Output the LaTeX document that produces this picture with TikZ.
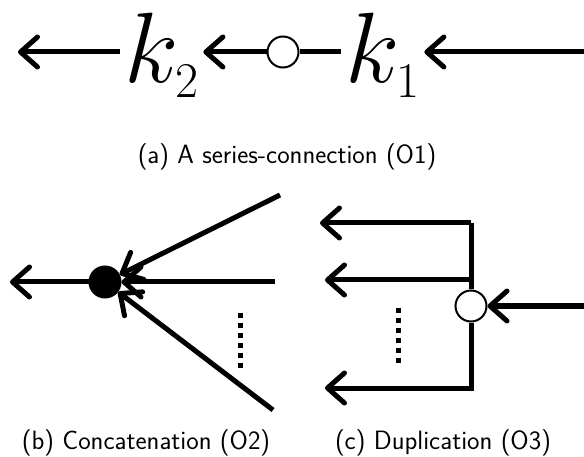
\RequirePackage{fix-cm}
\documentclass[tikz,border=0pt]{standalone}
\usepackage{amsmath}
\usepackage{tikz}
\usetikzlibrary{calc,positioning,arrows.meta}
\begin{document}
\begin{tikzpicture}[x=1pt,y=-1pt, line width=5pt,
  ar/.style={-{Straight Barb[length=17pt,width=30pt,round]}, line width=5pt},
  kay/.style={inner sep=2pt, font=\fontsize{100}{100}\selectfont},
  hub/.style={circle, draw, line width=2pt, fill=white, minimum size=31pt, inner sep=0pt},
  dots/.style={line width=5pt, dash pattern=on 5pt off 5pt},
  legenda/.style={font=\fontsize{26.5}{26.5}\selectfont\sffamily}]
  \useasboundingbox (0,0) rectangle (584,457);
  % (a) series
  \node[hub] (c0) at (283,52) {};
  \node[kay, anchor=base west] (k2) at (120,83) {$k_{\scriptscriptstyle 2}$};
  \node[kay, anchor=base west] (k1) at (341,83) {$k_{\scriptscriptstyle 1}$};
  \coordinate (a0) at (18,52); \coordinate (a1) at (584,52);
  \draw[ar] (k2.west |- c0) -- (a0);
  \draw[ar] (c0.west) -- (k2.east |- c0);
  \draw (k1.west |- c0) -- (c0.east);
  \draw[ar] (a1) -- (k1.east |- c0);
  \node[legenda] (capa) at (287,157) {(a) A series-connection (O1)};
  % (b) concatenation
  \node[hub, fill=black] (cb) at (105,282) {};
  \coordinate (b0) at (10,282);
  \draw[ar] (cb.west) -- (b0);
  \foreach \n/\x/\y in {1/280/195,2/275/282,3/273/410}{
    \coordinate (b\n) at (\x,\y); \draw[ar] (b\n) -- (cb);}
  \coordinate (bd1) at (240,313); \coordinate (bd2) at (240,368);
  \draw[dots] (bd1) -- (bd2);
  \node[legenda] (capb) at (146,443) {(b) Concatenation (O2)};
  % (c) duplication
  \node[hub] (cc) at (471,306) {};
  \coordinate (c1) at (471,223); \coordinate (c1o) at (320,223);
  \coordinate (c2o) at (325,280); \coordinate (c3o) at (325,388);
  \coordinate (ci) at (584,306);
  \draw (c1) -- (cc.north);
  \draw[ar] (c1) -- (c1o);
  \draw[ar] (c1 |- c2o) -- (c2o);
  \draw[ar] (cc.south) |- (c3o);
  \draw[ar] (ci) -- (cc.east);
  \coordinate (cd1) at (398,308); \coordinate (cd2) at (398,363);
  \draw[dots] (cd1) -- (cd2);
  \node[legenda] (capc) at (443,443) {(c) Duplication (O3)};
\end{tikzpicture}
\end{document}
